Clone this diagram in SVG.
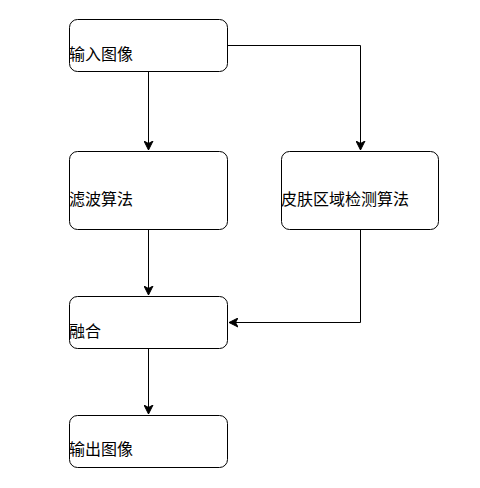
<svg xmlns="http://www.w3.org/2000/svg" width="480" height="488" viewBox="0 0 480 488">
<style>
.box{fill:#fff;stroke:#000;stroke-width:1}
.lbl{font-family:"Noto Sans CJK SC","Liberation Sans",sans-serif;font-size:16px;fill:#000}
.edge{fill:none;stroke:#000;stroke-width:1}
</style>
<defs>
<marker id="arr" markerWidth="10" markerHeight="10" refX="9" refY="5" orient="auto" markerUnits="userSpaceOnUse">
<path d="M0,0.5 L9,5 L0,9.5 L2.5,5 Z" fill="#000" stroke="#000" stroke-width="1"/>
</marker>
</defs>
<rect width="480" height="488" fill="#fff"/>
<g id="connectors">
<path class="edge" d="M148.5,72 V150" marker-end="url(#arr)"/>
<path class="edge" d="M228,45.5 H360.5 V150" marker-end="url(#arr)"/>
<path class="edge" d="M148.5,230 V295" marker-end="url(#arr)"/>
<path class="edge" d="M360.5,230 V322.5 H229" marker-end="url(#arr)"/>
<path class="edge" d="M148.5,349 V414" marker-end="url(#arr)"/>
</g>
<g id="n1"><rect class="box" x="69.5" y="19.5" width="158" height="52" rx="8"/><text class="lbl" x="69" y="60">输入图像</text></g>
<g id="n2"><rect class="box" x="69.5" y="151.5" width="158" height="78" rx="8"/><text class="lbl" x="69" y="205">滤波算法</text></g>
<g id="n3"><rect class="box" x="281.5" y="151.5" width="157" height="78" rx="8"/><text class="lbl" x="281" y="205">皮肤区域检测算法</text></g>
<g id="n4"><rect class="box" x="69.5" y="296.5" width="158" height="52" rx="8"/><text class="lbl" x="69" y="337">融合</text></g>
<g id="n5"><rect class="box" x="69.5" y="415.5" width="158" height="52" rx="8"/><text class="lbl" x="69" y="455">输出图像</text></g>
</svg>
